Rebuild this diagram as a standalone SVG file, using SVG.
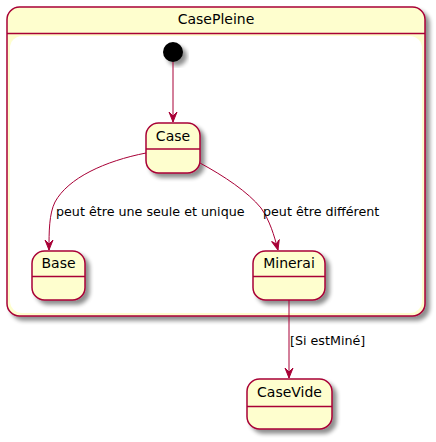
<svg xmlns="http://www.w3.org/2000/svg" width="436" height="442" viewBox="0 0 436 442">
<defs>
<filter id="sh" x="-20%" y="-20%" width="150%" height="150%">
<feGaussianBlur in="SourceAlpha" stdDeviation="2" result="b"/>
<feOffset in="b" dx="4" dy="4" result="o"/>
<feComponentTransfer in="o" result="c"><feFuncA type="linear" slope="0.45"/></feComponentTransfer>
<feMerge><feMergeNode in="c"/><feMergeNode in="SourceGraphic"/></feMerge>
</filter>
<marker id="ah" viewBox="0 0 10 10" refX="10" refY="5" markerWidth="10" markerHeight="10" markerUnits="userSpaceOnUse" orient="auto">
<path d="M0,1 L10,5 L0,9 L4,5 Z" fill="#A80036" stroke="#A80036" stroke-width="1"/>
</marker>
<style>
.st{fill:#FEFECE;stroke:#A80036;stroke-width:1.5}
.sep{stroke:#A80036;stroke-width:1.5}
.nm{font-family:"DejaVu Sans",sans-serif;font-size:14px;fill:#000;text-anchor:middle}
.lb{font-family:"DejaVu Sans",sans-serif;font-size:12.7px;fill:#000}
.ed{fill:none;stroke:#A80036;stroke-width:1}
</style>
</defs>

<g id="CasePleine">
<rect class="st" x="7" y="7" width="418" height="309" rx="12.5" ry="12.5" filter="url(#sh)"/>
<line class="sep" x1="7" y1="33.5" x2="425" y2="33.5"/>
<rect x="10" y="36" width="412" height="277" rx="12" ry="12" fill="#FFFFFF"/>
<text class="nm" x="216" y="24">CasePleine</text>
</g>

<g id="start">
<circle cx="173" cy="52" r="10" fill="#000" filter="url(#sh)"/>
</g>

<g id="Case">
<rect class="st" x="146" y="123" width="54" height="50" rx="12.5" ry="12.5" filter="url(#sh)"/>
<line class="sep" x1="146" y1="149" x2="200" y2="149"/>
<text class="nm" x="173" y="141">Case</text>
</g>

<g id="Base">
<rect class="st" x="32" y="251" width="53" height="49" rx="12.5" ry="12.5" filter="url(#sh)"/>
<line class="sep" x1="32" y1="276.5" x2="85" y2="276.5"/>
<text class="nm" x="58.5" y="268">Base</text>
</g>

<g id="Minerai">
<rect class="st" x="253" y="251" width="72" height="49" rx="12.5" ry="12.5" filter="url(#sh)"/>
<line class="sep" x1="253" y1="276.5" x2="325" y2="276.5"/>
<text class="nm" x="289" y="268">Minerai</text>
</g>

<g id="CaseVide">
<rect class="st" x="247" y="379" width="85" height="50" rx="12.5" ry="12.5" filter="url(#sh)"/>
<line class="sep" x1="247" y1="406.5" x2="332" y2="406.5"/>
<text class="nm" x="289.5" y="397">CaseVide</text>
</g>

<g id="connectors">
<path class="ed" d="M173,62 L173,122" marker-end="url(#ah)"/>
<path class="ed" d="M146,153 C105,161 68,178 55,202 C49,214 49,232 49,250" marker-end="url(#ah)"/>
<path class="ed" d="M200,163 C224,176 248,192 261,208 C270,221 274,235 278,250" marker-end="url(#ah)"/>
<path class="ed" d="M289,300 L289,378" marker-end="url(#ah)"/>
<text class="lb" x="56" y="216">peut être une seule et unique</text>
<text class="lb" x="263" y="216">peut être différent</text>
<text class="lb" x="290" y="345">[Si estMiné]</text>
</g>
</svg>
